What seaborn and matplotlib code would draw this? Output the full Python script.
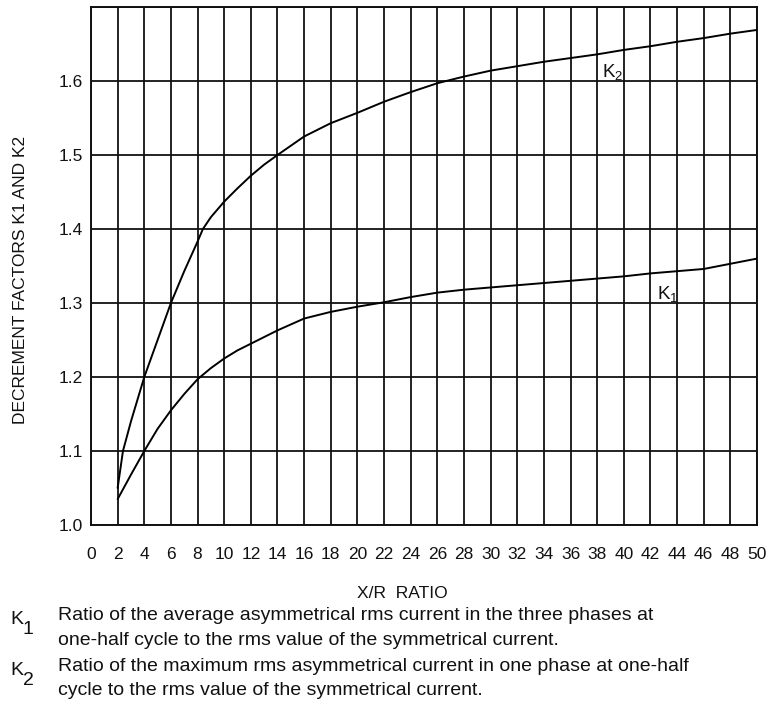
import matplotlib
matplotlib.use("Agg")
import matplotlib.pyplot as plt
import pandas as pd
import seaborn as sns

# ---- data ----
k1_xr = [2, 3, 4, 5, 6, 7, 8, 9, 10, 11, 12, 14, 16, 18, 20, 22, 24, 26, 28, 30,
         32, 34, 36, 38, 40, 42, 44, 46, 48, 50]
k1_val = [1.035, 1.068, 1.100, 1.130, 1.155, 1.177, 1.197, 1.212, 1.225, 1.236, 1.245,
          1.263, 1.279, 1.288, 1.295, 1.301, 1.308, 1.314, 1.318, 1.321,
          1.324, 1.327, 1.330, 1.333, 1.336, 1.340, 1.343, 1.346, 1.353, 1.360]

k2_xr = [2, 2.4, 3, 4, 5, 6, 7, 8, 8.4, 9, 10, 11, 12, 13, 14, 16, 18, 20, 22, 24,
         26, 28, 30, 32, 34, 36, 38, 40, 42, 44, 46, 48, 50]
k2_val = [1.050, 1.100, 1.140, 1.200, 1.250, 1.300, 1.343, 1.383, 1.400, 1.416, 1.437,
          1.455, 1.472, 1.487, 1.500, 1.525, 1.543, 1.557, 1.572, 1.585,
          1.597, 1.606, 1.614, 1.620, 1.626, 1.631, 1.636, 1.642, 1.647, 1.653,
          1.658, 1.664, 1.669]

x_ticks = list(range(0, 51, 2))
y_grid = [1.0, 1.1, 1.2, 1.3, 1.4, 1.5, 1.6, 1.7]
y_tick_labels = ["1.0", "1.1", "1.2", "1.3", "1.4", "1.5", "1.6", ""]

y_title = "DECREMENT FACTORS K1 AND K2"
x_title = "X/R  RATIO"
k1_note = ["Ratio of the average asymmetrical rms current in the three phases at",
           "one-half cycle to the rms value of the symmetrical current."]
k2_note = ["Ratio of the maximum rms asymmetrical current in one phase at one-half",
           "cycle to the rms value of the symmetrical current."]

# ---- style ----
sns.set_style("white")
plt.rcParams["font.family"] = ["Liberation Sans", "DejaVu Sans"]
plt.rcParams["mathtext.fontset"] = "custom"
plt.rcParams["mathtext.rm"] = "Liberation Sans"
plt.rcParams["mathtext.it"] = "Liberation Sans"

W, H = 771, 702
fig = plt.figure(figsize=(W / 100, H / 100), dpi=100)
fig.patch.set_facecolor("white")

def fx(px):
    return px / W

def fy(py):
    return 1 - py / H

ax = fig.add_axes([fx(91), fy(525), fx(757) - fx(91), fy(7) - fy(525)])

df1 = pd.DataFrame({"xr": k1_xr, "k": k1_val})
df2 = pd.DataFrame({"xr": k2_xr, "k": k2_val})
sns.lineplot(data=df1, x="xr", y="k", color="black", linewidth=1.4, ax=ax,
             estimator=None, sort=False, zorder=3)
sns.lineplot(data=df2, x="xr", y="k", color="black", linewidth=1.4, ax=ax,
             estimator=None, sort=False, zorder=3)

ax.set_xlim(0, 50)
ax.set_ylim(1.0, 1.7)
ax.set_xticks(x_ticks)
ax.set_xticklabels([str(t) for t in x_ticks])
ax.set_yticks(y_grid)
ax.set_yticklabels(y_tick_labels)
ax.grid(True, color="#111111", linewidth=1.3, zorder=1)
ax.set_axisbelow(True)
for s in ax.spines.values():
    s.set_visible(True)
    s.set_color("#111111")
    s.set_linewidth(1.4)
ax.tick_params(axis="both", length=0, labelsize=12.5, colors="#111111")
ax.tick_params(axis="x", pad=15.5)
ax.tick_params(axis="y", pad=6)
ax.set_xlabel("")
ax.set_ylabel("")

# curve labels
ax.text(38.4, 1.605, r"K$_\mathrm{2}$", fontsize=13.5, color="#111111",
        ha="left", va="baseline")
ax.text(42.47, 1.305, r"K$_\mathrm{1}$", fontsize=13.5, color="#111111",
        ha="left", va="baseline")

# axis titles
fig.text(fx(21), fy(280), y_title, rotation=90, ha="center", va="center",
         fontsize=12.5, color="#111111")
fig.text(fx(402), fy(593), x_title, ha="center", va="center",
         fontsize=12.5, color="#111111")

# explanatory notes
fs = 14
fig.text(fx(10), fy(624), "K", fontsize=14, color="#111111", va="baseline")
fig.text(fx(23), fy(634), "1", fontsize=14, color="#111111", va="baseline")
fig.text(fx(58), fy(620), k1_note[0], fontsize=fs, color="#111111", va="baseline")
fig.text(fx(58), fy(645), k1_note[1], fontsize=fs, color="#111111", va="baseline")
fig.text(fx(10), fy(675), "K", fontsize=14, color="#111111", va="baseline")
fig.text(fx(23), fy(685), "2", fontsize=14, color="#111111", va="baseline")
fig.text(fx(58), fy(671), k2_note[0], fontsize=fs, color="#111111", va="baseline")
fig.text(fx(58), fy(695), k2_note[1], fontsize=fs, color="#111111", va="baseline")

fig.savefig("out.png", dpi=100, facecolor="white")
